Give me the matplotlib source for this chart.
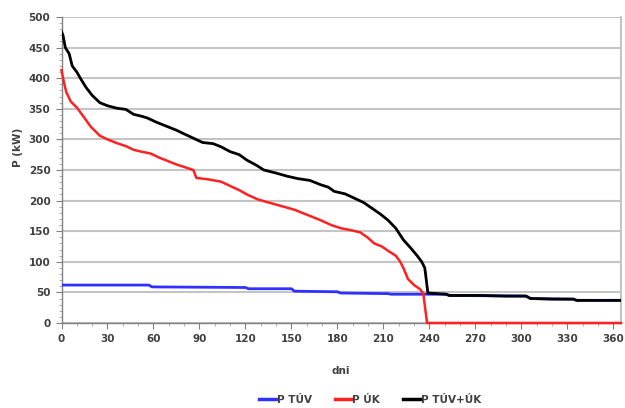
import matplotlib.pyplot as plt
from matplotlib.ticker import MultipleLocator
from matplotlib.lines import Line2D

# --- data (day of year, power in kW) ---
tuv_days = [0, 57, 59, 120, 122, 150, 152, 180, 182, 213, 215, 251, 253, 303, 306, 334, 336, 365]
tuv_kw = [62, 62, 59, 58, 56, 56, 52, 51, 49, 48, 47, 47, 45, 44, 40, 39, 37, 37]

uk_days = [0, 1, 3, 6, 10, 15, 19, 25, 30, 36, 42, 47, 52, 58, 64, 69, 75, 80, 86, 88,
           95, 104, 110, 116, 121, 128, 135, 145, 152, 160, 169, 176, 182, 190, 195, 200,
           204, 209, 213, 218, 221, 223, 226, 230, 234, 236, 238.5, 240, 365]
uk_kw = [413, 400, 378, 362, 352, 335, 321, 306, 300, 294, 289, 283, 280, 277, 270, 265,
         259, 255, 250, 237, 235, 231, 224, 217, 210, 202, 197, 190, 185, 177, 168, 160,
         155, 151, 148, 139, 130, 125, 118, 110, 100, 90, 72, 62, 55, 48, 0, 0, 0]

total_days = [0, 1, 2.5, 5, 7, 10, 13, 16, 20, 25, 30, 36, 42, 47, 52, 56, 62, 69, 75, 80,
              86, 92, 99, 104, 110, 116, 121, 127, 132, 140, 147, 154, 162, 169, 174, 178,
              185, 191, 197, 204, 208, 213, 218, 223, 228, 232, 235, 237, 238, 239, 245,
              251, 253, 273, 290, 303, 306, 320, 334, 336, 365]
total_kw = [476, 470, 450, 440, 420, 410, 397, 385, 372, 360, 355, 351, 349, 341, 338, 335,
            328, 321, 315, 309, 302, 295, 293, 288, 280, 275, 266, 258, 250, 245, 240, 236,
            233, 226, 222, 215, 211, 204, 197, 185, 178, 168, 155, 136, 122, 110, 100, 90,
            70, 49, 48, 47, 45, 45, 44, 44, 40, 39, 39, 37, 37]

labels = ['P TÚV', 'P ÚK', 'P TÚV+ÚK']
colors = ['#3030ff', '#ff2020', '#000000']

assert len(uk_days) == len(uk_kw) and len(total_days) == len(total_kw)

fig = plt.figure(figsize=(6.25, 4.08), dpi=100)
ax = fig.add_axes([61.5 / 625, 1 - 323 / 408, 559.5 / 625, 306 / 408])

ax.plot(tuv_days, tuv_kw, color=colors[0], lw=2, zorder=3)
ax.plot(uk_days, uk_kw, color=colors[1], lw=1.8, zorder=4, clip_on=False)
ax.plot(total_days, total_kw, color=colors[2], lw=2, zorder=5)

ax.set_xlim(0, 365)
ax.set_ylim(0, 500)
ax.xaxis.set_major_locator(MultipleLocator(30))
ax.xaxis.set_minor_locator(MultipleLocator(10))
ax.yaxis.set_major_locator(MultipleLocator(50))
ax.yaxis.set_minor_locator(MultipleLocator(10))

ax.grid(axis='y', which='major', color='#c4c4c4', lw=1.5, zorder=0)
ax.spines['top'].set_visible(False)
ax.spines['right'].set_color('#c4c4c4')
ax.spines['right'].set_linewidth(1.5)
for s in ['left', 'bottom']:
    ax.spines[s].set_color('#808080')
    ax.spines[s].set_linewidth(1)

ax.tick_params(which='major', length=4, color='#808080', labelsize=7.5,
               labelcolor='#404040', pad=4)
ax.tick_params(which='minor', length=2, color='#a0a0a0')
for t in ax.get_xticklabels() + ax.get_yticklabels():
    t.set_fontweight('bold')

ax.set_xlabel('dni', fontsize=7.5, fontweight='bold', color='#404040', labelpad=16)
fig.text(18 / 625, 1 - 147 / 408, 'P (kW)', rotation=90, ha='center', va='center',
         fontsize=7.5, fontweight='bold', color='#404040')

handles = [Line2D([0], [0], color=c, lw=2.5) for c in colors]
fig.legend(handles, labels, loc='center', bbox_to_anchor=(370 / 625, 1 - 400 / 408),
           ncol=3, frameon=False, handlelength=1.6, handletextpad=0.1, columnspacing=2.2,
           prop={'size': 7.5, 'weight': 'bold'}, labelcolor='#404040')

fig.savefig('out.png', dpi=100)
